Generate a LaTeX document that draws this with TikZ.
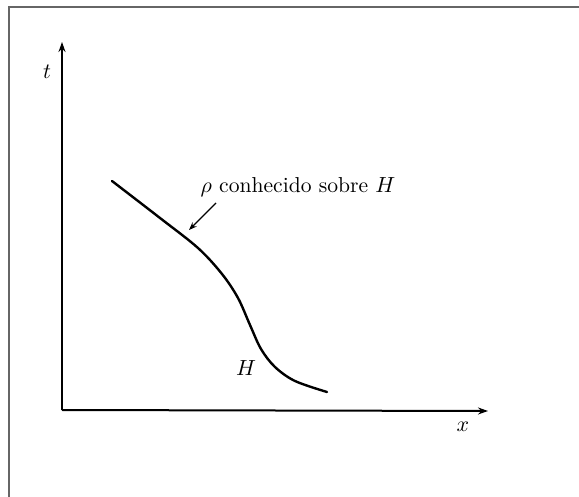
\documentclass[tikz,border=0pt]{standalone}
\usetikzlibrary{arrows.meta}
\begin{document}
\begin{tikzpicture}[x=0.5pt,y=-0.5pt,
  axis/.style={line width=1pt,-{Stealth[length=5pt,width=3.5pt]}},
  curveline/.style={line width=1.2pt,line cap=round,line join=round},
  pointer/.style={line width=0.6pt,-{Stealth[length=4pt,width=3pt]}},
  lbl/.style={inner sep=0pt,font=\fontsize{10.8}{13}\selectfont}]
\useasboundingbox (0,0) rectangle (579,497);
\draw[gray!80!black,line width=1pt] (9,497) -- (9,7) -- (579,7);
% axes
\coordinate (O) at (62,410);
\coordinate (T) at (62,42);
\coordinate (X) at (488,411);
\draw[axis] (O) -- (T);
\draw[axis] (O) -- (X);
\node[lbl] (tl) at (47,72) {$t$};
\node[lbl] (xl) at (463,427) {$x$};
% curve H
\draw[curveline] plot[smooth,tension=0.55] coordinates {
 (112,181) (160,218) (198,248) (222,274) (238,298)
 (250,325) (261,349) (275,367) (295,381) (327,392)};
\node[lbl] (hl) at (246,368) {$H$};
\node[lbl] (rho) at (298,187) {$\rho$ conhecido sobre $H$};
\coordinate (a1) at (216,203);
\coordinate (a2) at (189,230);
\draw[pointer] (a1) -- (a2);
\end{tikzpicture}
\end{document}
